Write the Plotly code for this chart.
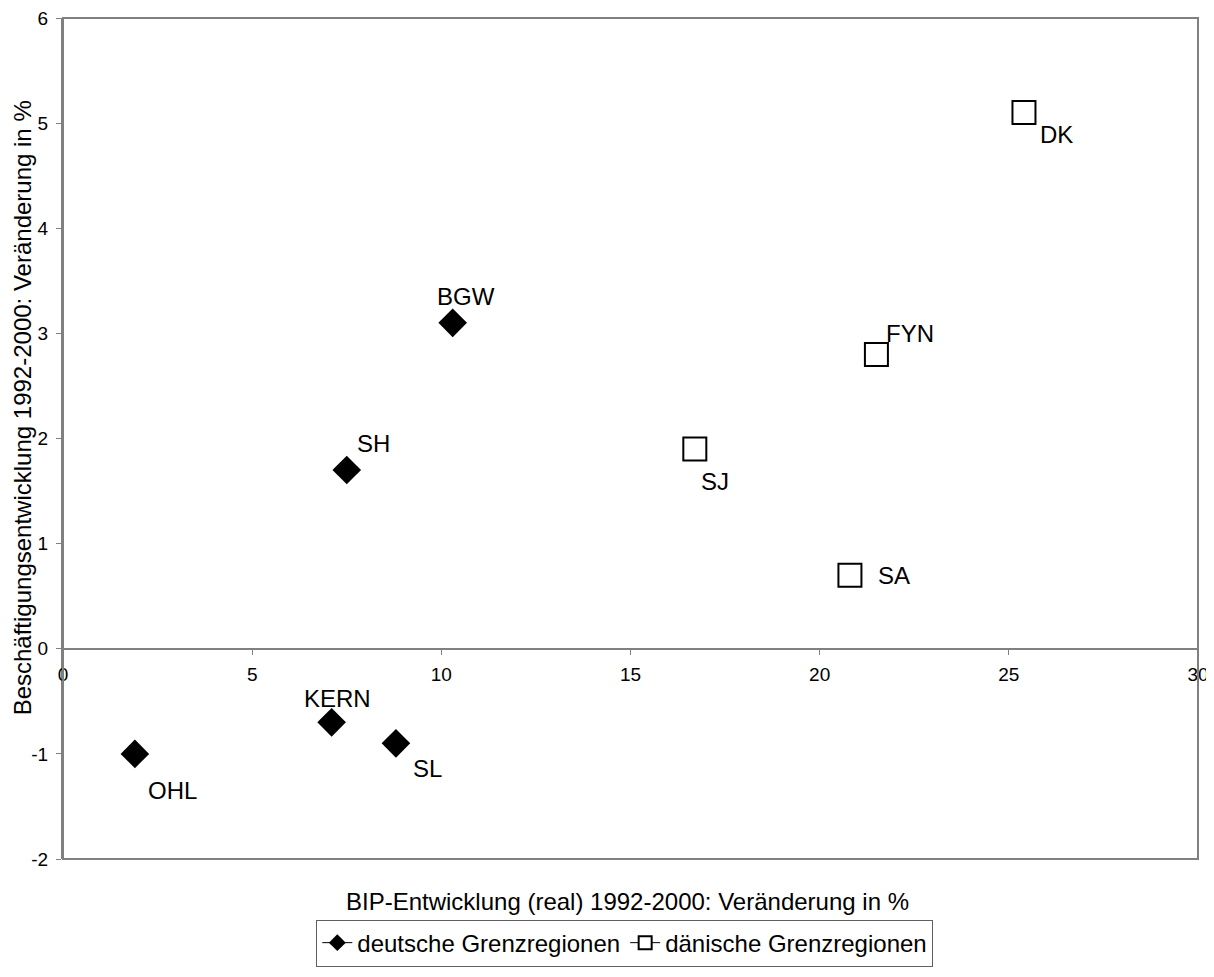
import plotly.graph_objects as go

# Deutsche Grenzregionen
de_regions = ['OHL', 'KERN', 'SL', 'SH', 'BGW']
de_bip = [1.9, 7.1, 8.8, 7.5, 10.3]
de_besch = [-1.0, -0.7, -0.9, 1.7, 3.1]

# Dänische Grenzregionen
dk_regions = ['SJ', 'SA', 'FYN', 'DK']
dk_bip = [16.7, 20.8, 21.5, 25.4]
dk_besch = [1.9, 0.7, 2.8, 5.1]

x_ticks = [0, 5, 10, 15, 20, 25, 30]
y_ticks = [-2, -1, 0, 1, 2, 3, 4, 5, 6]
y_ticktext = ['-2', '-1', '0', '1', '2', '3', '4', '5', '6']

# label offsets in pixels (xshift, yshift)
label_offsets = {
    'OHL': (38, -37), 'KERN': (6, 24), 'SL': (32, -25), 'SH': (27, 27),
    'BGW': (13, 26), 'SJ': (20, -32), 'SA': (44, 0), 'FYN': (34, 21),
    'DK': (33, -22),
}

FONT = 'Liberation Sans, Arial, sans-serif'
AX = '#808080'

fig = go.Figure()

fig.add_trace(go.Scatter(
    x=de_bip, y=de_besch, mode='markers', showlegend=False,
    marker=dict(symbol='diamond', size=22, color='black', line=dict(width=0)),
))
fig.add_trace(go.Scatter(
    x=dk_bip, y=dk_besch, mode='markers', showlegend=False,
    marker=dict(symbol='square', size=23, color='white', line=dict(width=2, color='black')),
))

# legend entries (Excel style line+marker)
fig.add_trace(go.Scatter(
    x=[None], y=[None], mode='lines+markers', name='deutsche Grenzregionen',
    line=dict(color='black', width=1),
    marker=dict(symbol='diamond', size=13, color='black'),
))
fig.add_trace(go.Scatter(
    x=[None], y=[None], mode='lines+markers', name='dänische Grenzregionen',
    line=dict(color='black', width=1),
    marker=dict(symbol='square', size=13, color='white', line=dict(width=2, color='black')),
))

for names, xs, ys in [(de_regions, de_bip, de_besch), (dk_regions, dk_bip, dk_besch)]:
    for n, x, y in zip(names, xs, ys):
        dx, dy = label_offsets[n]
        fig.add_annotation(x=x, y=y, text=n, showarrow=False, xshift=dx, yshift=dy,
                           font=dict(size=24, color='black', family=FONT))

# frame around the plot area
fig.add_shape(type='rect', xref='paper', yref='paper', x0=0, y0=0, x1=1, y1=1,
              line=dict(color=AX, width=2), layer='above')

fig.add_annotation(text='BIP-Entwicklung (real) 1992-2000: Veränderung in %',
                   xref='paper', yref='paper', x=0.497, y=-0.0506, showarrow=False,
                   xanchor='center', yanchor='middle',
                   font=dict(size=24, color='black', family=FONT))
fig.add_annotation(text='Beschäftigungsentwicklung 1992-2000: Veränderung in %',
                   xref='paper', yref='paper', x=-0.036, y=0.536, showarrow=False,
                   xanchor='center', yanchor='middle', textangle=-90,
                   font=dict(size=24, color='black', family=FONT))

# page body has an 8px margin, so size and margins are shifted to compensate
fig.update_layout(
    width=1206, height=969,
    margin=dict(l=55, r=16, t=10, b=113),
    plot_bgcolor='white', paper_bgcolor='white',
    font=dict(family=FONT, color='black', size=19),
    xaxis=dict(range=[0, 30], tickvals=x_ticks, showgrid=False, zeroline=False,
               showline=True, linecolor=AX, linewidth=2, ticks='outside',
               tickcolor=AX, ticklen=5, anchor='free', position=0.25,
               tickfont=dict(size=19), automargin=False, ticklabelstandoff=3,
               ticklabeloverflow='allow'),
    yaxis=dict(range=[-2, 6], tickvals=y_ticks, ticktext=y_ticktext,
               showgrid=False, zeroline=False,
               showline=True, linecolor=AX, linewidth=2, ticks='outside',
               tickcolor=AX, ticklen=5, tickfont=dict(size=19), automargin=False,
               ticklabelstandoff=4, ticklabeloverflow='allow'),
    legend=dict(orientation='h', x=0.495, xanchor='center', y=-0.072, yanchor='top',
                bordercolor='#606060', borderwidth=1, font=dict(size=24),
                tracegroupgap=0),
)

fig.write_html('out.html')
